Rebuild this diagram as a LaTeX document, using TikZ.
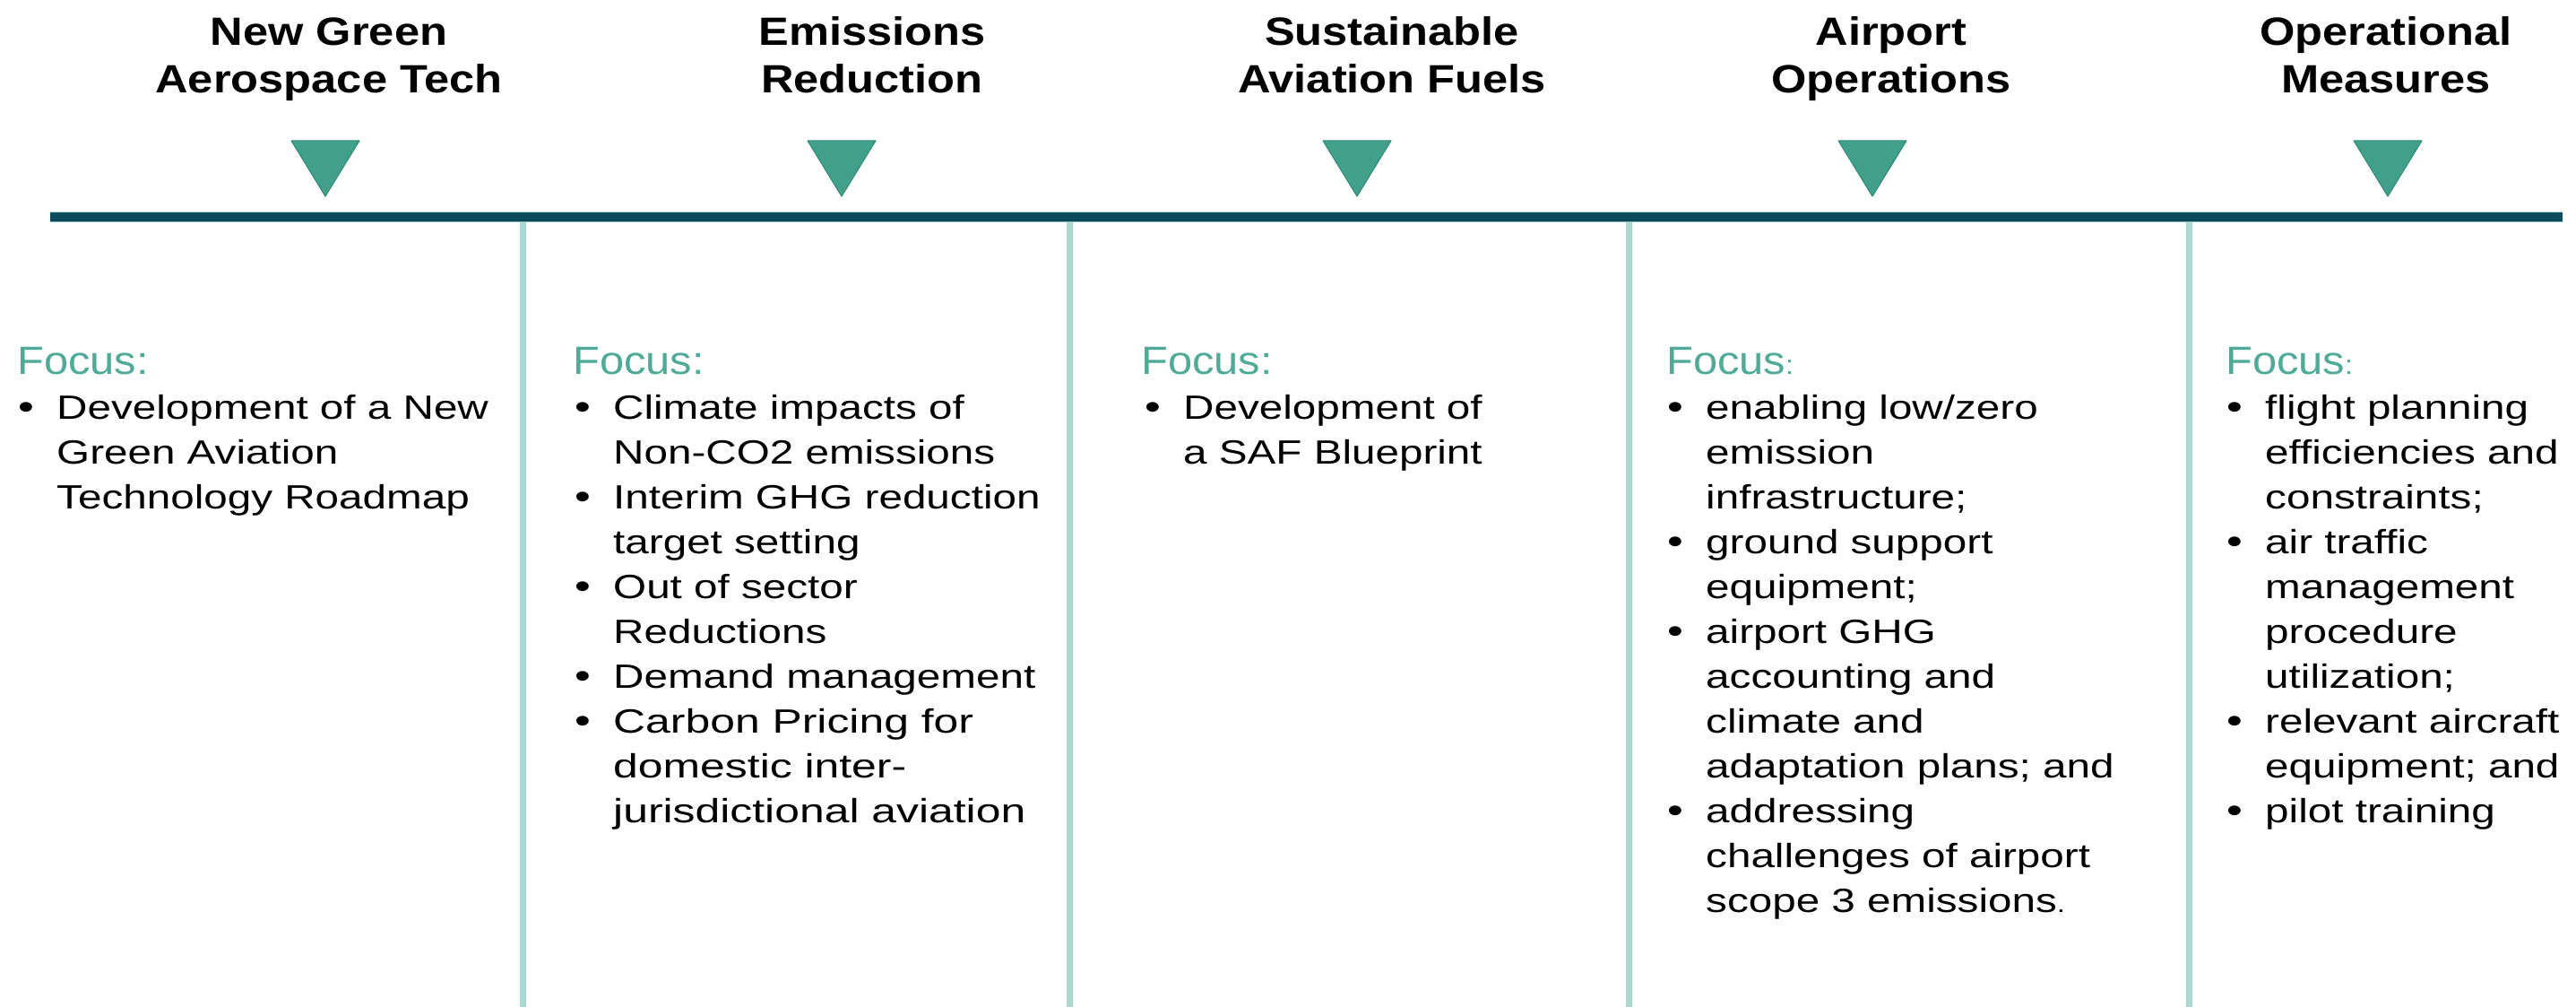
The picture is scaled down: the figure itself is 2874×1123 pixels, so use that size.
\documentclass[tikz,border=0pt]{standalone}
\usepackage{fontspec}
\setmainfont{Liberation Sans}
\newfontfamily\ttlfont{Liberation Sans}[FakeStretch=1.15]
\newfontfamily\focfont{Liberation Sans}[FakeStretch=1.11]
\newfontfamily\bodyfont{Liberation Sans}[FakeStretch=1.27]
\newfontfamily\bodywfont{Liberation Sans}[FakeStretch=1.27]
\newfontfamily\bodyxfont{Liberation Sans}[FakeStretch=1.33]
\definecolor{axisc}{HTML}{0C4A5C}
\definecolor{axisedge}{HTML}{9CCBD0}
\definecolor{sepc}{HTML}{A9D9D0}
\definecolor{tric}{HTML}{41A08B}
\definecolor{tricd}{HTML}{2F8A76}
\definecolor{focusc}{HTML}{50AA98}
\newcommand\bodyln[5]{\node[#1] (#2) at (#3,{467+50*#4}) {#5};}
\newcommand\bulat[3]{\node[bul] (#1) at ({#2-37},{467+50*#3}) {\textbullet};}
\begin{document}
\begin{tikzpicture}[x=1pt,y=-1pt,
  ttl/.style={anchor=base,inner sep=0,font=\ttlfont\bfseries\fontsize{44}{50}\selectfont},
  foc/.style={anchor=base west,inner sep=0,text=focusc,font=\focfont\fontsize{44}{50}\selectfont},
  bl/.style={anchor=base west,inner sep=0,font=\bodyfont\fontsize{37.5}{50}\selectfont},
  blw/.style={anchor=base west,inner sep=0,font=\bodywfont\fontsize{37.5}{50}\selectfont},
  blx/.style={anchor=base west,inner sep=0,font=\bodyxfont\fontsize{37.5}{50}\selectfont},
  bul/.style={anchor=base,inner sep=0,font=\bodyfont\fontsize{40}{50}\selectfont},
  tri/.style={fill=tric,draw=tricd,line width=1pt,line join=round},
  sepline/.style={draw=sepc,line width=7pt},
  axisline/.style={draw=axisc,line width=10pt},
  axisrim/.style={draw=axisedge,line width=12pt}]
\useasboundingbox (0,0) rectangle (2874,1123);

% axis
\coordinate (axL) at (56,242);
\coordinate (axR) at (2859,242);
% separators
\foreach \i/\x in {1/583,2/1193,3/1817,4/2442}{
  \coordinate (sT\i) at (\x,247);
  \coordinate (sB\i) at (\x,1123);
  \draw[sepline] (sT\i) -- (sB\i);
}
\draw[axisrim] (axL) -- (axR);
\draw[axisline] (axL) -- (axR);

% triangles
\foreach \x in {363,939,1514,2089,2664}{
  \filldraw[tri] ({\x-38},157) -- ({\x+38},157) -- (\x,219) -- cycle;
}

% titles
\node[ttl] (t1a) at (367,51) {New Green};
\node[ttl] (t1b) at (367,104) {Aerospace Tech};
\node[ttl] (t2a) at (973,51) {Emissions};
\node[ttl] (t2b) at (973,104) {Reduction};
\node[ttl] (t3a) at (1553,51) {Sustainable};
\node[ttl] (t3b) at (1553,104) {Aviation Fuels};
\node[ttl] (t4a) at (2110,51) {Airport};
\node[ttl] (t4b) at (2110,104) {Operations};
\node[ttl] (t5a) at (2662,51) {Operational};
\node[ttl] (t5b) at (2662,104) {Measures};

% Focus labels
\node[foc] (f1) at (19,417) {Focus:};
\node[foc] (f2) at (639,417) {Focus:};
\node[foc] (f3) at (1273,417) {Focus:};
\node[foc] (f4) at (1859,417) {Focus{\fontsize{30}{30}\selectfont :}};
\node[foc] (f5) at (2483,417) {Focus{\fontsize{30}{30}\selectfont :}};

% column 1
\bulat{b11}{66}{0}
\bodyln{bl}{c1l0}{63}{0}{Development of a New}
\bodyln{bl}{c1l1}{63}{1}{Green Aviation}
\bodyln{bl}{c1l2}{63}{2}{Technology Roadmap}

% column 2
\bulat{b21}{687}{0}
\bulat{b22}{687}{2}
\bulat{b23}{687}{4}
\bulat{b24}{687}{6}
\bulat{b25}{687}{7}
\bodyln{bl}{c2l0}{684}{0}{Climate impacts of}
\bodyln{bl}{c2l1}{684}{1}{Non-CO2 emissions}
\bodyln{bl}{c2l2}{684}{2}{Interim GHG reduction}
\bodyln{bl}{c2l3}{684}{3}{target setting}
\bodyln{bl}{c2l4}{684}{4}{Out of sector}
\bodyln{bl}{c2l5}{684}{5}{Reductions}
\bodyln{bl}{c2l6}{684}{6}{Demand management}
\bodyln{blx}{c2l7}{684}{7}{Carbon Pricing for}
\bodyln{blx}{c2l8}{684}{8}{domestic inter-}
\bodyln{blx}{c2l9}{684}{9}{jurisdictional aviation}

% column 3
\bulat{b31}{1323}{0}
\bodyln{bl}{c3l0}{1320}{0}{Development of}
\bodyln{bl}{c3l1}{1320}{1}{a SAF Blueprint}

% column 4
\bulat{b41}{1906}{0}
\bulat{b42}{1906}{3}
\bulat{b43}{1906}{5}
\bulat{b44}{1906}{9}
\bodyln{blw}{c4l0}{1903}{0}{enabling low/zero}
\bodyln{blw}{c4l1}{1903}{1}{emission}
\bodyln{blw}{c4l2}{1903}{2}{infrastructure;}
\bodyln{blw}{c4l3}{1903}{3}{ground support}
\bodyln{blw}{c4l4}{1903}{4}{equipment;}
\bodyln{blw}{c4l5}{1903}{5}{airport GHG}
\bodyln{blw}{c4l6}{1903}{6}{accounting and}
\bodyln{blw}{c4l7}{1903}{7}{climate and}
\bodyln{blw}{c4l8}{1903}{8}{adaptation plans; and}
\bodyln{blw}{c4l9}{1903}{9}{addressing}
\bodyln{blw}{c4l10}{1903}{10}{challenges of airport}
\bodyln{blw}{c4l11}{1903}{11}{scope 3 emissions{\fontsize{26}{26}\selectfont .}}

% column 5
\bulat{b51}{2530}{0}
\bulat{b52}{2530}{3}
\bulat{b53}{2530}{7}
\bulat{b54}{2530}{9}
\bodyln{blw}{c5l0}{2527}{0}{flight planning}
\bodyln{blw}{c5l1}{2527}{1}{efficiencies and}
\bodyln{blw}{c5l2}{2527}{2}{constraints;}
\bodyln{blw}{c5l3}{2527}{3}{air traffic}
\bodyln{blw}{c5l4}{2527}{4}{management}
\bodyln{blw}{c5l5}{2527}{5}{procedure}
\bodyln{blw}{c5l6}{2527}{6}{utilization;}
\bodyln{blw}{c5l7}{2527}{7}{relevant aircraft}
\bodyln{blw}{c5l8}{2527}{8}{equipment; and}
\bodyln{blw}{c5l9}{2527}{9}{pilot training}
\end{tikzpicture}
\end{document}
